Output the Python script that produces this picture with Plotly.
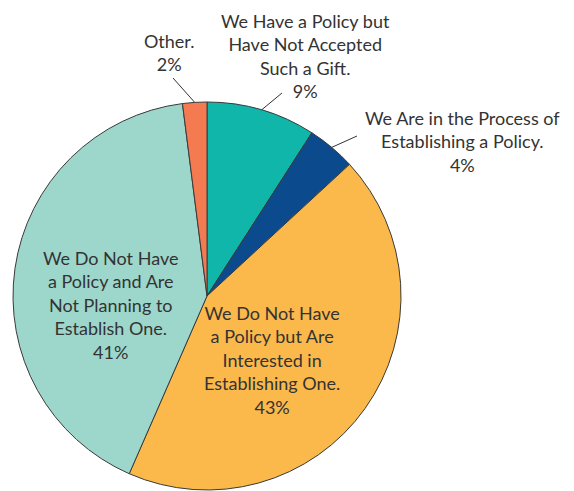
import math
import plotly.graph_objects as go

# Survey responses, in clockwise order from 12 o'clock
labels = [
    "We Have a Policy but<br>Have Not Accepted<br>Such a Gift.",
    "We Are in the Process of<br>Establishing a Policy.",
    "We Do Not Have<br>a Policy but Are<br>Interested in<br>Establishing One.",
    "We Do Not Have<br>a Policy and Are<br>Not Planning to<br>Establish One.",
    "Other.",
]
values = [9, 4, 43, 41, 2]
colors = ["#10b6a9", "#0c4a8e", "#fbb84b", "#9dd7cb", "#f47a51"]

W, H = 574, 491
# pie placement in pixels
cx, cy, r = 207, 296, 194

# label centres (px) and whether the label sits outside with a leader line
label_pos = [(306, 56), (462, 142), (272, 360), (110, 305), (169, 52)]
outside = [True, True, False, False, True]
leader_start = [(282, 93), (357, 136), None, None, (173, 78)]

FONT = "Lato"
TXT = "#333333"

fig = go.Figure(
    go.Pie(
        labels=[l.replace("<br>", " ") for l in labels],
        values=values,
        sort=False,
        direction="clockwise",
        rotation=0,
        marker=dict(colors=colors, line=dict(color="#3a3a3a", width=1)),
        textinfo="none",
        hoverinfo="label+percent",
        domain=dict(x=[(cx - r) / W, (cx + r) / W], y=[1 - (cy + r) / H, 1 - (cy - r) / H]),
        showlegend=False,
    )
)

total = sum(values)
annotations = []
shapes = []
cum = 0
for lab, v, (lx, ly), out, ls in zip(labels, values, label_pos, outside, leader_start):
    mid = (cum + v / 2) / total * 2 * math.pi
    cum += v
    annotations.append(
        dict(
            x=lx / W, y=1 - ly / H, xref="paper", yref="paper",
            text=f"{lab}<br>{v}%", showarrow=False,
            font=dict(family=FONT, size=18, color=TXT),
            xanchor="center", yanchor="middle", align="center",
        )
    )
    if out:
        ex = cx + r * math.sin(mid)
        ey = cy - r * math.cos(mid)
        shapes.append(
            dict(
                type="line", xref="paper", yref="paper",
                x0=ls[0] / W, y0=1 - ls[1] / H, x1=ex / W, y1=1 - ey / H,
                line=dict(color="#333333", width=1),
            )
        )

fig.update_layout(
    width=W, height=H,
    margin=dict(l=0, r=0, t=0, b=0),
    paper_bgcolor="white",
    plot_bgcolor="white",
    annotations=annotations,
    shapes=shapes,
)

fig.write_html("out.html")
